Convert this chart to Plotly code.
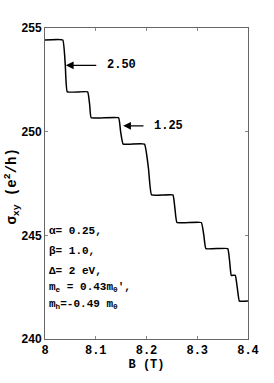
import plotly.graph_objects as go

# Step curve (corner points)
B_values = [8.000, 8.035, 8.040, 8.044, 8.084, 8.088, 8.091, 8.145, 8.149, 8.154, 8.196, 8.204, 8.210,
            8.252, 8.256, 8.260, 8.308, 8.313, 8.317, 8.360, 8.364, 8.367, 8.375, 8.379, 8.383, 8.400]
sigma_values = [254.42, 254.42, 253.2, 251.92, 251.92, 251.3, 250.67, 250.67, 250.0, 249.40, 249.40, 248.2, 246.95,
                246.95, 246.3, 245.62, 245.62, 245.0, 244.36, 244.36, 243.7, 243.07, 243.07, 242.45, 241.83, 241.83]

x_ticks = [8, 8.1, 8.2, 8.3, 8.4]
x_tick_labels = ["8", "8.1", "8.2", "8.3", "8.4"]
y_ticks = [240, 245, 250, 255]
y_tick_labels = ["240", "245", "250", "255"]

# Arrow annotations: (label, head B, head sigma, tail B)
arrow_labels = ["2.50", "1.25"]
arrow_head_B = [8.041, 8.154]
arrow_sigma = [253.2, 250.28]
arrow_tail_B = [8.104, 8.197]

param_lines = ["α= 0.25,", "β= 1.0,", "Δ= 2 eV,",
               "m<sub>e</sub> = 0.43m<sub>0</sub>′,", "m<sub>h</sub>=-0.49 m<sub>0</sub>"]
param_sigma = [245.2, 244.25, 243.3, 242.5, 241.65]

mono = "Liberation Mono"
fig = go.Figure()
fig.add_trace(go.Scatter(x=B_values, y=sigma_values, mode="lines",
                         line=dict(color="black", width=1.5, shape="spline", smoothing=0.3),
                         showlegend=False, hoverinfo="skip"))

annotations = []
for lab, hx, sy, tx in zip(arrow_labels, arrow_head_B, arrow_sigma, arrow_tail_B):
    annotations.append(dict(x=hx, y=sy, ax=tx, ay=sy, xref="x", yref="y",
                            axref="x", ayref="y", showarrow=True, arrowhead=2,
                            arrowsize=1.2, arrowwidth=1.3, arrowcolor="black", text=""))
    annotations.append(dict(x=tx, y=sy, xref="x", yref="y", text="<b>" + lab + "</b>",
                            showarrow=False, xanchor="left", xshift=7,
                            font=dict(family=mono, size=12, color="black")))
for t, sy in zip(param_lines, param_sigma):
    annotations.append(dict(x=8.004, y=sy, xref="x", yref="y", text="<b>" + t + "</b>",
                            showarrow=False, xanchor="left", yanchor="middle",
                            font=dict(family=mono, size=11, color="black")))
# y-axis title
annotations.append(dict(x=0, y=0.49, xref="paper", yref="paper", xshift=-33,
                        text="<b>σ<sub>xy</sub> (e<sup>2</sup>/h)</b>", textangle=-90,
                        showarrow=False, xanchor="center", yanchor="middle",
                        font=dict(family=mono, size=14, color="black")))

fig.update_layout(
    width=274, height=383,
    margin=dict(l=45, r=26, t=28, b=44),
    paper_bgcolor="white", plot_bgcolor="white",
    annotations=annotations,
    xaxis=dict(range=[8, 8.4], tickvals=x_ticks, ticktext=x_tick_labels,
               ticks="inside", ticklen=3, tickcolor="#888", showgrid=False,
               zeroline=False, showline=True, linecolor="#666", linewidth=1,
               mirror="ticks", automargin=False,
               tickfont=dict(family=mono, size=12, color="black", weight="bold"),
               title=dict(text="<b>B (T)</b>", standoff=2,
                          font=dict(family=mono, size=12, color="black"))),
    yaxis=dict(range=[240, 255], tickvals=y_ticks, ticktext=y_tick_labels,
               ticks="inside", ticklen=3, tickcolor="#888", showgrid=False,
               zeroline=False, showline=True, linecolor="#666", linewidth=1,
               mirror="ticks", automargin=False,
               tickfont=dict(family="Liberation Sans", size=12, color="black", weight="bold")),
)
fig.write_html("out.html", config={"displayModeBar": False},
               post_script="document.body.style.margin='0';document.body.style.overflow='hidden';")
